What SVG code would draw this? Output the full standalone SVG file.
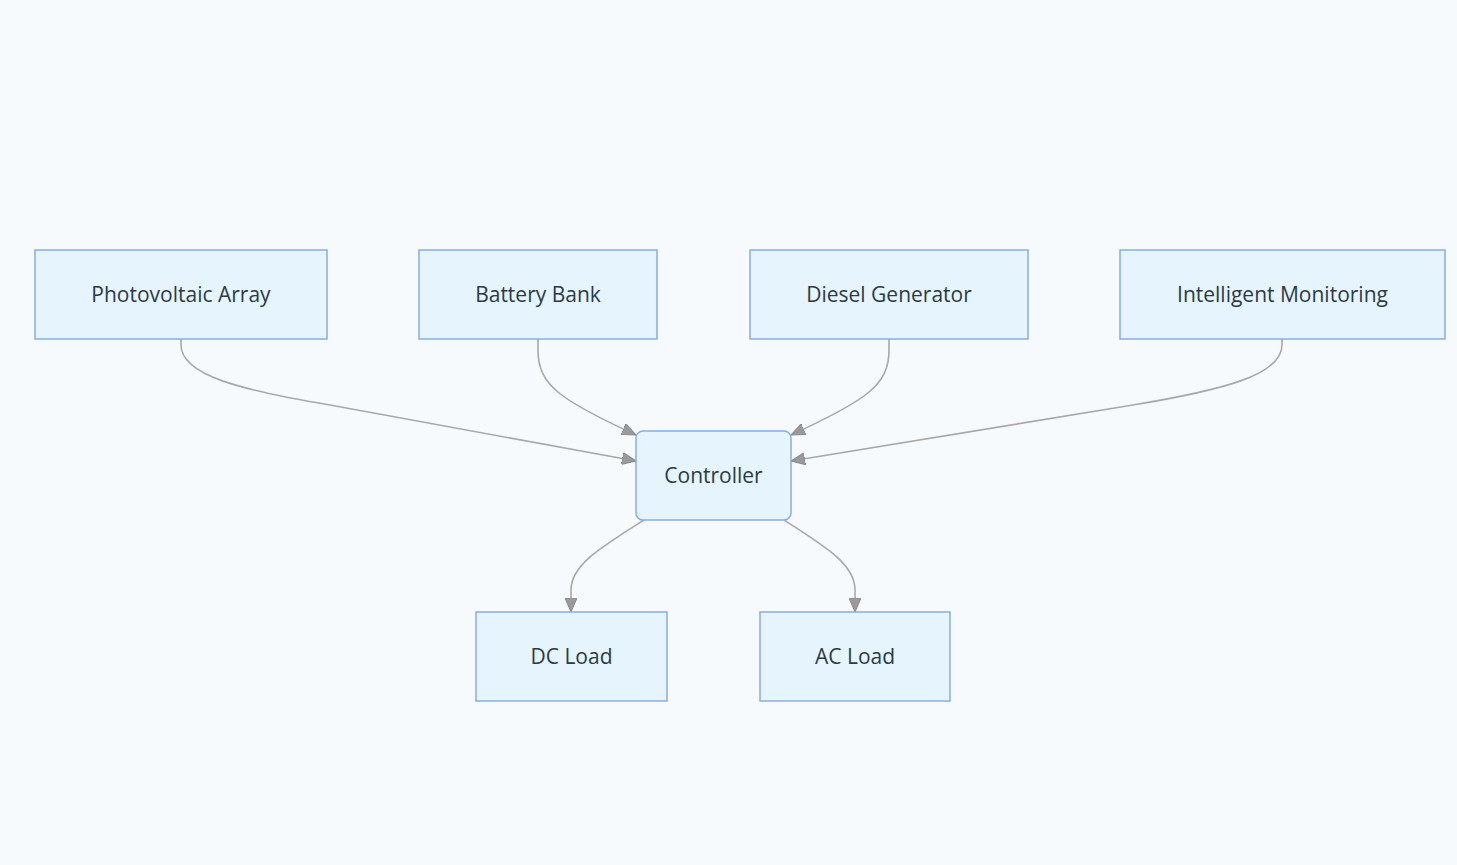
<svg xmlns="http://www.w3.org/2000/svg" width="1457" height="865" viewBox="0 0 1457 865">
<style>
.node rect{fill:#e6f5fd;stroke:#86aede;stroke-width:1.5}
.node text{font-family:"Open Sans","DejaVu Sans",sans-serif;font-size:21px;fill:#2d3a45;text-anchor:middle;dominant-baseline:central}
.edge{fill:none;stroke:#a8a8a8;stroke-width:1.6}
</style>
<defs>
<marker id="arr" viewBox="0 0 14 12" refX="14" refY="6" markerWidth="14" markerHeight="12" markerUnits="userSpaceOnUse" orient="auto">
<path d="M0,0 L14,6 L0,12 Z" fill="#9a9a9a" stroke="#8a8a8a" stroke-width="1"/>
</marker>
</defs>
<rect width="1457" height="865" fill="#f7fafd"/>
<g id="connectors">
<path class="edge" marker-end="url(#arr)" d="M181,339 V345 C181,375 240,390 330,405 L636,461"/>
<path class="edge" marker-end="url(#arr)" d="M538,339 V350 C538,385 560,400 636,435"/>
<path class="edge" marker-end="url(#arr)" d="M889,339 V350 C889,385 867,400 791,435"/>
<path class="edge" marker-end="url(#arr)" d="M1282,339 V345 C1282,375 1223,390 1133,405 L791,461"/>
<path class="edge" marker-end="url(#arr)" d="M644,520 C600,548 571,565 571,590 V612"/>
<path class="edge" marker-end="url(#arr)" d="M784,520 C828,548 855,565 855,590 V612"/>
</g>
<g id="pv" class="node"><rect x="35" y="250" width="292" height="89"/><text x="181" y="294">Photovoltaic Array</text></g>
<g id="battery" class="node"><rect x="419" y="250" width="238" height="89"/><text x="538" y="294">Battery Bank</text></g>
<g id="diesel" class="node"><rect x="750" y="250" width="278" height="89"/><text x="889" y="294">Diesel Generator</text></g>
<g id="monitoring" class="node"><rect x="1120" y="250" width="325" height="89"/><text x="1282.5" y="294">Intelligent Monitoring</text></g>
<g id="controller" class="node"><rect x="636" y="431" width="155" height="89" rx="7"/><text x="713.5" y="475">Controller</text></g>
<g id="dcload" class="node"><rect x="476" y="612" width="191" height="89"/><text x="571.5" y="656">DC Load</text></g>
<g id="acload" class="node"><rect x="760" y="612" width="190" height="89"/><text x="855" y="656">AC Load</text></g>
</svg>
